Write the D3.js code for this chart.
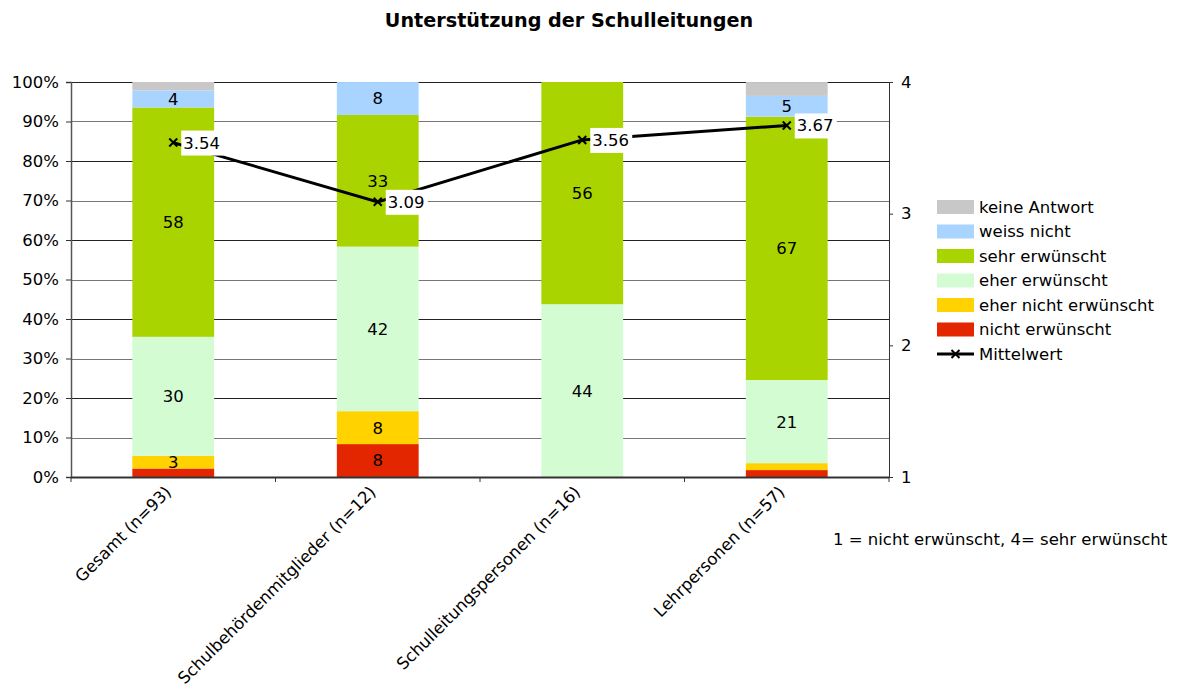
<!DOCTYPE html>
<html>
<head>
<meta charset="utf-8">
<script src="https://cdn.jsdelivr.net/npm/d3@7"></script>
<style>
  body { margin: 0; background: #fff; }
  text { font-family: "DejaVu Sans", Verdana, sans-serif; fill: #000; }
</style>
</head>
<body>
<div id="chart"></div>
<script>
// categories and series (percent per group)
var categories = ["Gesamt (n=93)", "Schulbehördenmitglieder (n=12)", "Schulleitungspersonen (n=16)", "Lehrpersonen (n=57)"];
var seriesNames = ["nicht erwünscht", "eher nicht erwünscht", "eher erwünscht", "sehr erwünscht", "weiss nicht", "keine Antwort"];
var seriesColors = ["#e32600", "#ffd200", "#d3fcd3", "#aad400", "#a9d4ff", "#c8c8c8"];
var nichtErw = [2.15, 8.33, 0, 1.75];
var eherNicht = [3.23, 8.33, 0, 1.75];
var eherErw = [30.11, 41.67, 43.75, 21.05];
var sehrErw = [58.06, 33.33, 56.25, 66.67];
var weissNicht = [4.30, 8.33, 0, 5.26];
var keineAntwort = [2.15, 0, 0, 3.51];
// data labels shown in the chart (null = hidden)
var segLabels = [
  [null, "3", "30", "58", "4", null],
  ["8", "8", "42", "33", "8", null],
  [null, null, "44", "56", null, null],
  [null, null, "21", "67", "5", null]
];
var means = [3.54, 3.09, 3.56, 3.67];
var yTicks = [0, 10, 20, 30, 40, 50, 60, 70, 80, 90, 100];
var y2Ticks = [1, 2, 3, 4];

var seriesValues = [nichtErw, eherNicht, eherErw, sehrErw, weissNicht, keineAntwort];

var fs = "16.5px";
var width = 1183, height = 697;
var margin = {top: 82, right: 294, bottom: 220, left: 71};
var w = width - margin.left - margin.right,
    h = height - margin.top - margin.bottom;

var svg = d3.select("#chart").append("svg")
    .attr("width", width)
    .attr("height", height);

svg.append("text")
    .attr("x", 569).attr("y", 27)
    .attr("text-anchor", "middle")
    .style("font-size", "19.2px")
    .style("font-weight", "bold")
    .text("Unterstützung der Schulleitungen");

var g = svg.append("g").attr("transform", "translate(" + margin.left + "," + margin.top + ")");

var x = d3.scaleBand().domain(categories).range([0, w]).paddingInner(0.6).paddingOuter(0.3);
var xb = d3.scaleBand().domain(categories).range([0, w]);
var y = d3.scaleLinear().domain([0, 100]).range([h, 0]);
var y2 = d3.scaleLinear().domain([1, 4]).range([h, 0]);

// gridlines
g.selectAll(".grid").data(yTicks.slice(1)).enter().append("line")
    .attr("x1", 0).attr("x2", w)
    .attr("y1", function (d) { return Math.round(y(d)) + 0.5; })
    .attr("y2", function (d) { return Math.round(y(d)) + 0.5; })
    .attr("stroke", function (d, i) { return i % 2 ? "#222" : "#777"; })
    .attr("stroke-width", 1);

// stacked bars
var rows = categories.map(function (c, i) {
    var r = {cat: c};
    seriesNames.forEach(function (s, j) { r[s] = seriesValues[j][i]; });
    return r;
});
var stacked = d3.stack().keys(seriesNames)(rows);

var layers = g.selectAll(".layer").data(stacked).enter().append("g")
    .attr("fill", function (d, i) { return seriesColors[i]; });

layers.selectAll("rect").data(function (d) { return d; }).enter().append("rect")
    .attr("x", function (d) { return x(d.data.cat); })
    .attr("width", x.bandwidth())
    .attr("y", function (d) { return y(d[1]); })
    .attr("height", function (d) { return y(d[0]) - y(d[1]); });

stacked.forEach(function (layer, j) {
    layer.forEach(function (d, i) {
        var lab = segLabels[i][j];
        if (!lab) return;
        g.append("text")
            .attr("x", x(d.data.cat) + x.bandwidth() / 2)
            .attr("y", (y(d[0]) + y(d[1])) / 2)
            .attr("dy", "0.36em")
            .attr("text-anchor", "middle")
            .style("font-size", fs)
            .text(lab);
    });
});

// axes
var yAxis = g.append("g").call(d3.axisLeft(y).tickValues(yTicks).tickSize(5).tickFormat(function (d) { return d + "%"; }));
yAxis.select(".domain").attr("stroke", "#555").attr("stroke-width", 1.5);
yAxis.selectAll(".tick line").attr("stroke", "#333");
yAxis.selectAll("text").style("font-size", fs).attr("x", -12);

var y2Axis = g.append("g").attr("transform", "translate(" + w + ",0)")
    .call(d3.axisRight(y2).tickValues(y2Ticks).tickSize(4).tickFormat(d3.format("d")));
y2Axis.select(".domain").attr("stroke", "#333");
y2Axis.selectAll(".tick line").attr("stroke", "#333");
y2Axis.selectAll("text").style("font-size", fs).attr("x", 12);

var xAxis = g.append("g").attr("transform", "translate(0," + h + ")");
xAxis.append("line").attr("x1", 0).attr("x2", w).attr("y1", 0.5).attr("y2", 0.5)
    .attr("stroke", "#333").attr("stroke-width", 2);
xAxis.selectAll(".xt").data(categories.concat([null])).enter().append("line")
    .attr("x1", function (d, i) { return i < categories.length ? xb(d) : w; })
    .attr("x2", function (d, i) { return i < categories.length ? xb(d) : w; })
    .attr("y1", 0).attr("y2", 5).attr("stroke", "#333");
xAxis.selectAll(".xl").data(categories).enter().append("text")
    .attr("transform", function (d) {
        return "translate(" + (xb(d) + xb.bandwidth() / 2 - 5) + ",12) rotate(-45)";
    })
    .attr("text-anchor", "end")
    .attr("dy", "0.35em")
    .style("font-size", fs)
    .text(function (d) { return d; });

// mean line
var cx = function (d, i) { return xb(categories[i]) + xb.bandwidth() / 2; };
g.append("path")
    .datum(means)
    .attr("fill", "none")
    .attr("stroke", "#000")
    .attr("stroke-width", 3)
    .attr("d", d3.line().x(cx).y(function (d) { return y2(d); }));

var pts = g.selectAll(".pt").data(means).enter().append("g")
    .attr("transform", function (d, i) { return "translate(" + cx(d, i) + "," + y2(d) + ")"; });
pts.append("path").attr("d", "M-4,-4L4,4M-4,4L4,-4").attr("stroke", "#000").attr("stroke-width", 2);
pts.append("rect").attr("x", 8).attr("y", -12).attr("width", 42).attr("height", 25).attr("fill", "#fff");
pts.append("text").attr("x", 10).attr("dy", "0.36em").style("font-size", fs)
    .text(function (d) { return d.toFixed(2); });

// legend
var legendItems = seriesNames.map(function (s, i) { return {name: s, color: seriesColors[i]}; }).reverse();
var legend = svg.append("g").attr("transform", "translate(937,200)");
legend.selectAll(".li").data(legendItems).enter().append("rect")
    .attr("x", 0).attr("y", function (d, i) { return i * 24.5; })
    .attr("width", 37).attr("height", 14)
    .attr("fill", function (d) { return d.color; });
legend.selectAll(".lt").data(legendItems.concat([{name: "Mittelwert"}])).enter().append("text")
    .attr("x", 42).attr("y", function (d, i) { return i * 24.5 + 7; })
    .attr("dy", "0.36em")
    .style("font-size", fs)
    .text(function (d) { return d.name; });
var my = 6 * 24.5 + 7;
legend.append("line").attr("x1", 0).attr("x2", 37).attr("y1", my).attr("y2", my).attr("stroke", "#000").attr("stroke-width", 3);
legend.append("path").attr("transform", "translate(18.5," + my + ")")
    .attr("d", "M-4,-4L4,4M-4,4L4,-4").attr("stroke", "#000").attr("stroke-width", 2);

svg.append("text").attr("x", 833).attr("y", 545).style("font-size", fs)
    .text("1 = nicht erwünscht, 4= sehr erwünscht");
</script>
</body>
</html>
